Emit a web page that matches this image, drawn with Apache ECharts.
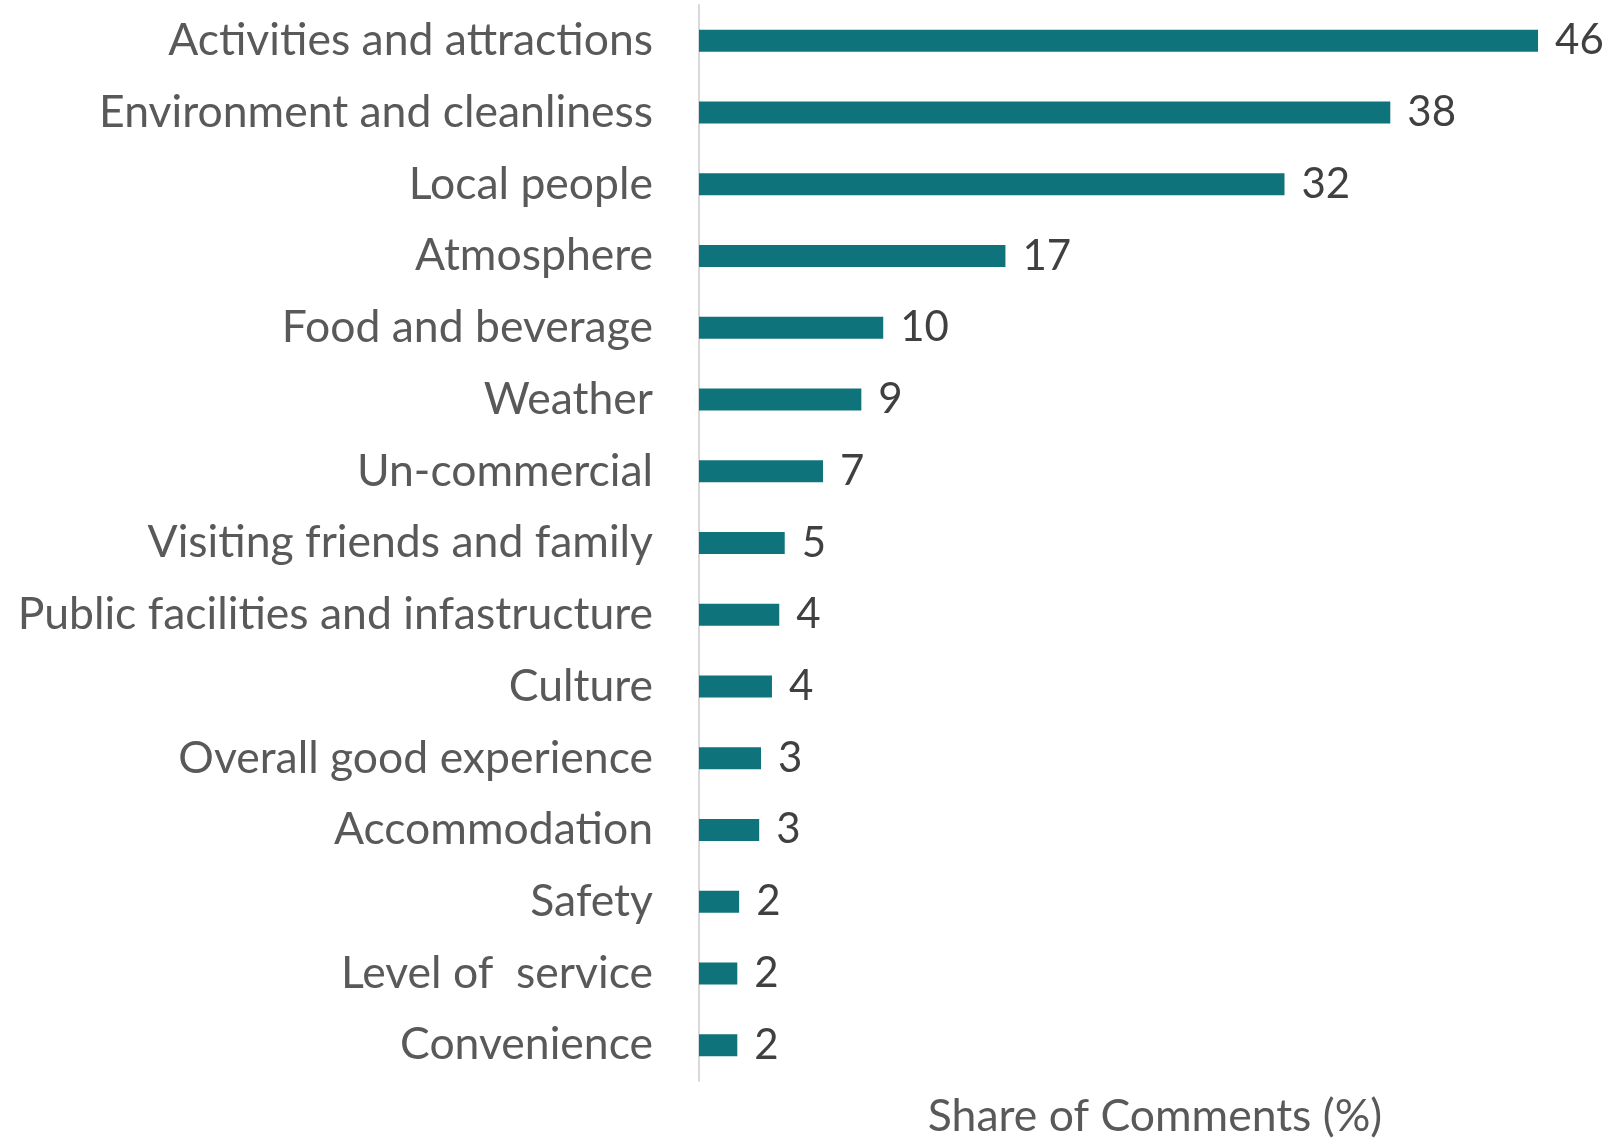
<!DOCTYPE html>
<html>
<head>
<meta charset="utf-8">
<script src="https://cdn.jsdelivr.net/npm/echarts@6/dist/echarts.min.js"></script>
<style>
  html, body { margin: 0; padding: 0; background: #fff; }
  #chart { width: 1617px; height: 1140px; }
</style>
</head>
<body>
<div id="chart"></div>
<script>
// Reasons mentioned in visitor comments, listed from most to least frequent
const categories = [
  'Activities and attractions',
  'Environment and cleanliness',
  'Local people',
  'Atmosphere',
  'Food and beverage',
  'Weather',
  'Un-commercial',
  'Visiting friends and family',
  'Public facilities and infastructure',
  'Culture',
  'Overall good experience',
  'Accommodation',
  'Safety',
  'Level of  service',
  'Convenience'
];

// Share of comments (%) for each reason
const shares = [46, 37.9, 32.1, 16.8, 10.1, 8.9, 6.8, 4.7, 4.4, 4.0, 3.4, 3.3, 2.2, 2.1, 2.1];

const axisTitle = 'Share of Comments (%)';

const FONT = 'Lato, "Open Sans", sans-serif';

const chart = echarts.init(document.getElementById('chart'));
chart.setOption({
  animation: false,
  backgroundColor: '#ffffff',
  grid: { left: 699, right: 6, top: 5, bottom: 59, containLabel: false, outerBoundsMode: 'none' },
  xAxis: {
    type: 'value',
    min: 0,
    max: 50,
    splitLine: { show: false },
    axisLine: { show: false },
    axisTick: { show: false },
    axisLabel: { show: false },
    name: axisTitle,
    nameLocation: 'middle',
    nameGap: 13,
    nameTextStyle: { fontFamily: FONT, fontSize: 44.5, color: '#595959', verticalAlign: 'top' }
  },
  yAxis: {
    type: 'category',
    data: categories,
    inverse: true,
    axisLine: { show: true, lineStyle: { color: '#d9d9d9', width: 2 } },
    axisTick: { show: false },
    axisLabel: { margin: 46, fontFamily: FONT, fontSize: 44.5, color: '#595959', padding: [4, 0, 0, 0] }
  },
  series: [{
    type: 'bar',
    data: shares,
    barWidth: 22,
    itemStyle: { color: '#0e737a' },
    label: {
      show: true,
      position: 'right',
      distance: 17,
      fontFamily: FONT,
      fontSize: 42,
      color: '#404040',
      padding: [4, 0, 0, 0],
      formatter: p => String(Math.round(p.value))
    }
  }]
});
</script>
</body>
</html>
